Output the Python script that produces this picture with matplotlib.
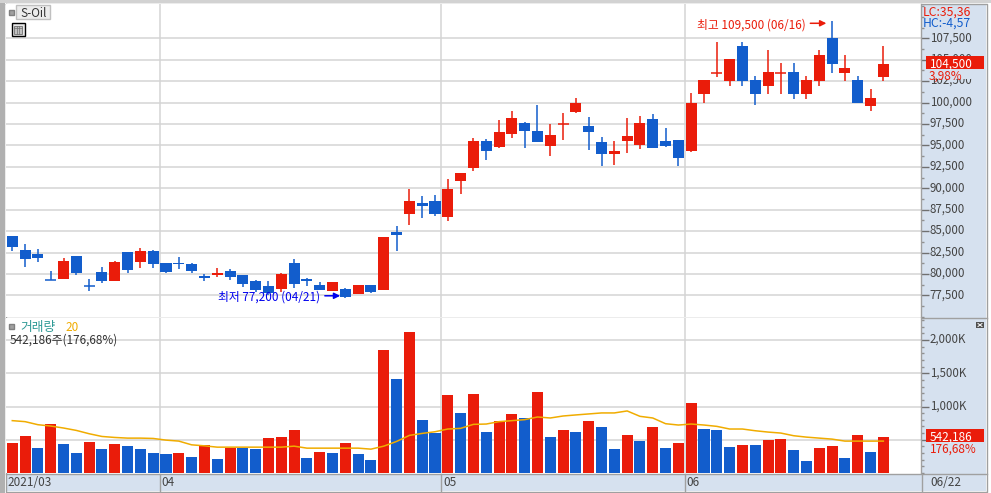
import matplotlib
matplotlib.use('Agg')
import matplotlib.pyplot as plt
from matplotlib.patches import Rectangle
from matplotlib.lines import Line2D
from matplotlib.ticker import FuncFormatter, MultipleLocator
from matplotlib.transforms import ScaledTranslation

plt.rcParams['font.family'] = ['Noto Sans CJK KR', 'DejaVu Sans']

# candles, oldest first
opens = [84450, 82800, 82350, 79300, 79400, 82100, 78700, 80250, 79200, 82550,
         81400, 82700, 81300, 81300, 81150, 79750, 79900, 80350, 79900, 79200,
         78600, 78250, 81300, 79400, 78700, 78000, 78250, 77650, 78700, 78150,
         84900, 87000, 88300, 88500, 86650, 90850, 92350, 95500, 94800, 96350,
         97600, 96700, 94950, 97550, 98900, 97250, 95400, 94000, 95500, 95050,
         98100, 95500, 95650, 94350, 101000, 103500, 102500, 106600, 102650, 101950,
         103500, 103550, 101000, 102500, 107500, 103450, 102650, 99600, 103000]
highs = [84450, 83500, 82900, 80350, 81850, 82100, 79400, 80800, 81500, 82550,
         83050, 82800, 81300, 82000, 81300, 80000, 80700, 80600, 79900, 79300,
         79200, 80100, 81750, 79550, 79050, 79050, 78350, 78700, 78700, 84300,
         85600, 89900, 89100, 89200, 91100, 91800, 95850, 95750, 97950, 99000,
         97750, 99700, 97500, 98800, 100550, 98300, 96000, 95500, 98200, 98450,
         98650, 97050, 95650, 101100, 102650, 107050, 105100, 107050, 103100, 106150,
         104600, 104600, 103100, 106150, 109500, 105550, 103100, 101600, 106600]
lows = [82700, 80800, 81400, 79250, 79400, 79900, 78000, 78950, 79200, 80100,
        80700, 80700, 80100, 80600, 80100, 79200, 79650, 79300, 78500, 77900,
        77550, 77900, 78350, 78600, 78150, 78000, 77200, 77650, 77800, 78150,
        82700, 85700, 86550, 86750, 86200, 89350, 92000, 93300, 94700, 95850,
        94700, 95400, 93750, 95650, 98800, 94450, 92600, 92700, 94100, 94600,
        94700, 94800, 92600, 94250, 99950, 103000, 101950, 101950, 99700, 101000,
        101000, 100400, 100400, 101950, 103450, 102500, 99950, 99000, 102500]
closes = [83150, 81750, 81850, 79250, 81500, 80100, 78650, 79200, 81400, 80450,
          82700, 81150, 80250, 81150, 80350, 79550, 80100, 79650, 78850, 78150,
          77800, 80000, 78850, 79200, 78150, 79050, 77300, 78700, 77900, 84300,
          84550, 88500, 87950, 87000, 89900, 91800, 95500, 94350, 96550, 98200,
          96700, 95400, 96200, 97600, 99950, 96550, 94000, 94350, 96100, 97600,
          94700, 94950, 93550, 99950, 102650, 103550, 105100, 102500, 101000, 103550,
          103550, 101000, 102650, 105550, 104500, 104050, 99950, 100500, 104500]

# volume in thousands of shares, and the 20 day average
volumes = [455, 560, 379, 742, 439, 303, 470, 364, 439, 409,
           364, 303, 288, 303, 242, 424, 212, 379, 375, 364,
           530, 535, 651, 227, 318, 303, 455, 288, 197, 1848,
           1409, 2121, 803, 606, 1167, 909, 1182, 621, 788, 894,
           833, 1212, 545, 651, 621, 788, 697, 364, 576, 485,
           697, 379, 455, 1060, 667, 651, 394, 424, 420, 500,
           515, 348, 182, 379, 409, 227, 576, 318, 542]
volume_ma = [788, 773, 727, 707, 677, 641, 591, 550, 535, 525,
             525, 520, 495, 480, 424, 409, 389, 389, 389, 389,
             389, 389, 404, 374, 374, 374, 374, 374, 359, 404,
             475, 566, 596, 621, 662, 672, 732, 737, 773, 788,
             803, 843, 828, 858, 874, 889, 904, 904, 934, 853,
             828, 742, 722, 737, 722, 702, 662, 662, 636, 616,
             601, 561, 540, 525, 510, 480, 480, 480, 480]

# month boundaries fall between two sessions
month_pos = [11.5, 33.5, 52.5]
month_labels = ['04', '05', '06']
price_ticks = list(range(77500, 107501, 2500))
volume_ticks = [500, 1000, 1500, 2000]

RED = '#ea1c0a'
BLUE = '#125dcc'
GRID = '#d4d4d4'
STRIP = '#d6e1ef'
EDGE = '#a0a0a0'
W, H = 991, 493


def px_axes(left, top, right, bottom, **kw):
    return fig.add_axes([left / W, 1 - bottom / H, (right - left) / W, (bottom - top) / H], **kw)


def px_rect(left, top, width, height, **kw):
    fig.add_artist(Rectangle((left / W, 1 - (top + height) / H), width / W, height / H,
                             transform=fig.transFigure, **kw))


def px_line(xs, ys, **kw):
    fig.add_artist(Line2D([x / W for x in xs], [1 - y / H for y in ys], transform=fig.transFigure, **kw))


def fig_text(x, y, s, **kw):
    kw.setdefault('fontsize', 8.5)
    kw.setdefault('va', 'center_baseline')
    fig.text(x / W, 1 - y / H, s, **kw)


fig = plt.figure(figsize=(W / 100, H / 100), dpi=100, facecolor='white')

# background strips behind the two panes
bg = px_axes(0, 0, W, H)
bg.set_xlim(0, W)
bg.set_ylim(H, 0)
bg.axis('off')
bg.add_patch(Rectangle((0, 0), W, 3, color='#d2d2d2', lw=0))
bg.add_patch(Rectangle((0, 3), 5, H, color='#b0b0b0', lw=0))
bg.add_patch(Rectangle((921, 4), 65, 470, fc=STRIP, ec='none'))
bg.add_patch(Rectangle((6, 474), 980, 17, fc=STRIP, ec='none'))
bg.plot([5.5, 986.5, 986.5, 5.5, 5.5], [3.5, 3.5, 491.5, 491.5, 3.5], color=EDGE, lw=1)
bg.plot([5.5, 986.5], [317.5, 317.5], color=EDGE, lw=1)
bg.plot([5.5, 986.5], [473.5, 473.5], color=EDGE, lw=1)

xlim = (-0.49, 70.94)

ax = px_axes(6, 4, 921, 317)
vax = px_axes(6, 318, 921, 473)

for a in (ax, vax):
    a.set_xlim(xlim)
    a.set_xticks(month_pos)
    a.tick_params(axis='x', length=0, labelbottom=False)
    a.grid(True, color=GRID, lw=1.1)
    a.set_axisbelow(True)
    a.yaxis.tick_right()
    for s in a.spines.values():
        s.set_color(EDGE)
        s.set_linewidth(1)
    a.spines['left'].set_visible(False)
    a.spines['top'].set_visible(False)
    a.spines['bottom'].set_visible(False)
    a.tick_params(axis='y', which='major', length=6, width=1, color='#707070',
                  labelcolor='#444444', labelsize=8.3, pad=1)
    a.tick_params(axis='y', which='minor', length=2.5, width=1, color='#909090')

ax.set_ylim(74976, 111500)
ax.set_yticks(price_ticks)
ax.yaxis.set_minor_locator(MultipleLocator(1250))
ax.yaxis.set_major_formatter(FuncFormatter(lambda v, p: f'{int(v):,}'))

vax.set_ylim(0, 2333)
vax.set_yticks(volume_ticks)
vax.yaxis.set_minor_locator(MultipleLocator(100))
vax.yaxis.set_major_formatter(FuncFormatter(lambda v, p: f'{int(v):,}K' if v >= 1000 else ''))

# tick labels sit a little above their tick
label_shift = ScaledTranslation(-1 / 100, 2 / 100, fig.dpi_scale_trans)
for a in (ax, vax):
    for lab in a.get_yticklabels():
        lab.set_verticalalignment('center_baseline')
        lab.set_transform(lab.get_transform() + label_shift)

# candles
for i in range(len(opens)):
    col = RED if closes[i] >= opens[i] else BLUE
    ax.plot([i, i], [lows[i], highs[i]], color=col, lw=1.1, solid_capstyle='butt', zorder=2)
    low, high = min(opens[i], closes[i]), max(opens[i], closes[i])
    if high - low < 120:
        ax.plot([i - 0.43, i + 0.43], [low, low], color=col, lw=1.1, solid_capstyle='butt', zorder=3)
    else:
        ax.bar(i, high - low, bottom=low, width=0.86, color=col, lw=0, zorder=3)

# volume bars, red when volume rose from the day before
for i, v in enumerate(volumes):
    col = RED if i == 0 or v > volumes[i - 1] else BLUE
    vax.bar(i, v, width=0.86, color=col, lw=0, zorder=2)
vax.plot(range(len(volume_ma)), volume_ma, color='#f0ac00', lw=1.1, zorder=3)

# high / low callouts
ax.text(61.96, 109250, '최고 109,500 (06/16)', color=RED, fontsize=8.5,
        ha='right', va='center_baseline', zorder=5)
ax.annotate('', xy=(63.55, 109250), xytext=(62.3, 109250), zorder=5,
            arrowprops=dict(arrowstyle='-|>', color=RED, lw=1.1, mutation_scale=9, shrinkA=0, shrinkB=0))
ax.text(24.0, 77450, '최저 77,200 (04/21)', color='#0000ee', fontsize=8.5,
        ha='right', va='center_baseline', zorder=5)
ax.annotate('', xy=(25.6, 77450), xytext=(24.4, 77450), zorder=5,
            arrowprops=dict(arrowstyle='-|>', color='#0000ee', lw=1.1, mutation_scale=9, shrinkA=0, shrinkB=0))

# top left labels
px_rect(16, 5, 34, 14, fc='#ececec', ec='#c0c0c0', lw=1)
px_rect(9, 10, 5, 5, fc='#a0a0a0', ec='#808080', lw=1)
fig_text(20, 12, 'S-Oil', color='#333333')
px_rect(11.5, 23, 13, 13, fc='#e8e8e8', ec='black', lw=1)
px_rect(14, 25.5, 8, 8, fc='#c0c0c0', ec='#707070', lw=0.6)
px_line([16.7, 16.7], [25.5, 33.5], color='#707070', lw=0.5)
px_line([19.3, 19.3], [25.5, 33.5], color='#707070', lw=0.5)
px_line([14, 22], [28, 28], color='#707070', lw=0.5)

fig_text(923, 11, 'LC:35,36', color=RED, fontsize=8.8)
fig_text(923, 22, 'HC:-4,57', color=BLUE, fontsize=8.8)

# last price and last volume tags, the row below hides the tick label behind it
px_rect(926, 56, 58, 13, fc=RED, ec='none')
fig_text(930, 62.5, '104,500', color='white')
px_rect(926, 69, 45, 10, fc=STRIP, ec='none')
fig_text(929, 74.5, '3,98%', color=RED)
px_rect(926, 429, 58, 13, fc=RED, ec='none')
fig_text(930, 435.5, '542,186', color='white')
fig_text(930, 448, '176,68%', color=RED)

# volume pane captions
px_rect(9, 324, 5, 5, fc='#a0a0a0', ec='#808080', lw=1)
fig_text(20, 326, '거래량', color='#2f9a96', fontsize=9.2)
fig_text(65, 326, '20', color='#f0ac00')
fig_text(10, 339, '542,186주(176,68%)', color='#333333')
px_rect(976, 322, 8, 6, fc='#505050', ec='none')
px_line([978, 982], [323.5, 326.5], color='white', lw=0.7)
px_line([978, 982], [326.5, 323.5], color='white', lw=0.7)

# date strip
fig_text(7, 481.5, '2021/03', color='#444444')
for pos, lab in zip(month_pos, month_labels):
    x_px = 6 + (pos - xlim[0]) / (xlim[1] - xlim[0]) * 915
    fig_text(x_px + 2, 481.5, lab, color='#444444')
    px_line([x_px, x_px], [474, 491], color=EDGE, lw=1)
px_line([921.5, 921.5], [474, 491], color=EDGE, lw=1)
fig_text(930, 481.5, '06/22', color='#444444')

fig.savefig('out.png', dpi=100, facecolor='white')
